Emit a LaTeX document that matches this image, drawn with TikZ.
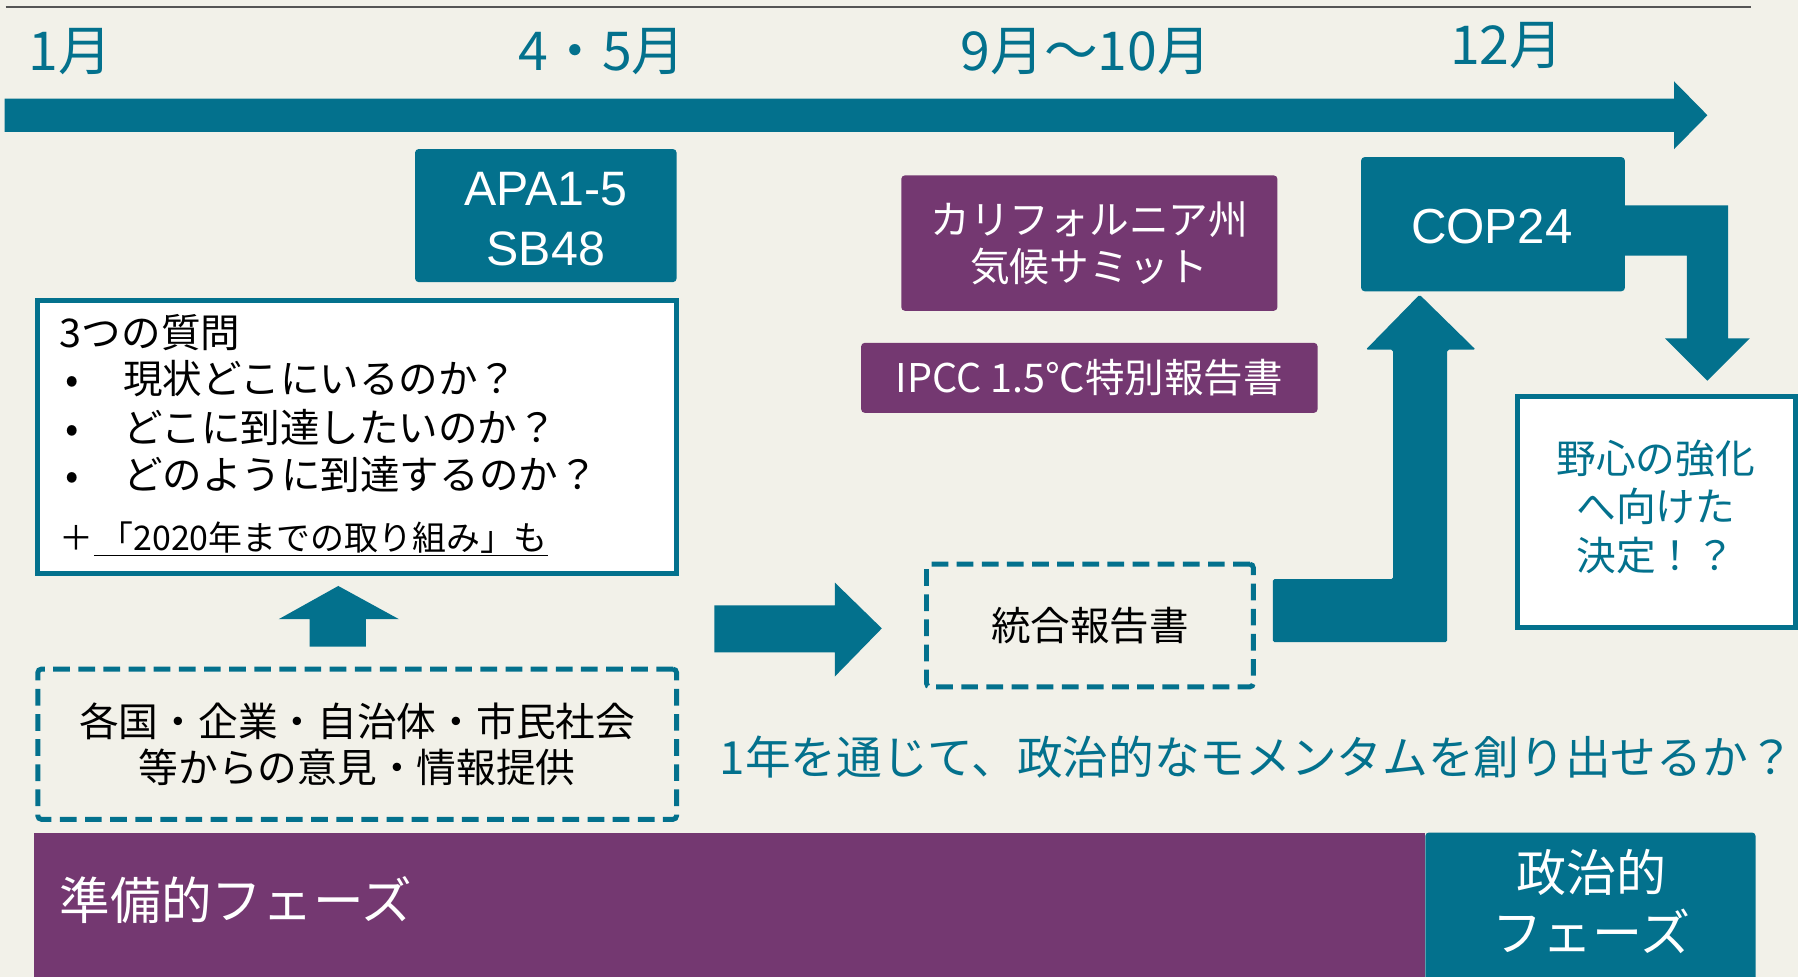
\documentclass[tikz,border=0pt]{standalone}
\usepackage{fontspec}
\setmainfont{Noto Sans CJK JP}
\newfontfamily\latfont{Liberation Sans}
\definecolor{teal1}{RGB}{3,113,141}
\definecolor{purp}{RGB}{116,56,113}
\definecolor{bgc}{RGB}{242,241,233}
\definecolor{lineg}{RGB}{85,85,85}
\newcommand\pxu{0.022934cm}
\tikzset{
  dims/.style 2 args={minimum width=#1*\pxu, minimum height=#2*\pxu},
  month/.style={text=teal1, font=\fontsize{30.5}{33}\selectfont, inner sep=0pt},
  tealbox/.style={fill=teal1, rounded corners=2pt, text=white, inner sep=0pt, align=center},
  purpbox/.style={fill=purp, rounded corners=2pt, text=white, inner sep=0pt, align=center},
  bodytext/.style={font=\fontsize{22.5}{26.5}\selectfont, inner sep=0pt},
  dashbox/.style={draw=teal1, line width=2.8pt, dash pattern=on 9.5pt off 4.8pt, rounded corners=2pt, inner sep=0pt, align=center},
  whitebox/.style={draw=teal1, fill=white, line width=2.8pt, inner sep=0pt, align=center},
  blockarrow/.style={fill=teal1},
}
\begin{document}
\begin{tikzpicture}[x=\pxu, y=-\pxu]
\useasboundingbox (0,0) rectangle (1568,852);
\fill[bgc] (0,0) rectangle (1568,852);
% top rule
\draw[lineg, line width=0.9pt] (5,6) -- (1527,6);
% timeline arrow
\fill[blockarrow] (4,86) -- (1460,86) -- (1460,71) -- (1489,100.5) -- (1460,130) -- (1460,115) -- (4,115) -- cycle;
% months
\node[month] (m1) at (61,45) {1月};
\node[month] (m2) at (525,45) {4・5月};
\node[month] (m3) at (947,45) {9月～10月};
\node[month] (m4) at (1314,40) {12月};

% APA box
\node[tealbox, dims={228}{116}] (apa) at (476,188) {};
\node[text=white, align=center, inner sep=0pt, font=\latfont\fontsize{27.5}{34.5}\selectfont] (apat) at (476,191) {APA1-5\\SB48};

% questions box
\node[whitebox, dims={557}{238}] (qbox) at (311.5,381) {};
\node[bodytext, anchor=west] (q0) at (52,290) {3つの質問};
\node[bodytext, anchor=west] (q1) at (52,330) {\makebox[36pt][l]{\hspace{3pt}•}現状どこにいるのか？};
\node[bodytext, anchor=west] (q2) at (52,373) {\makebox[36pt][l]{\hspace{3pt}•}どこに到達したいのか？};
\node[bodytext, anchor=west] (q3) at (52,414) {\makebox[36pt][l]{\hspace{3pt}•}どのように到達するのか？};
\node[bodytext, font=\fontsize{19.3}{24}\selectfont, anchor=west] (q4) at (52,470) {＋\underline{\,「2020年までの取り組み」も}};

% small up arrow
\fill[blockarrow] (270,564) -- (270,540) -- (243,540) -- (295,511) -- (348,540) -- (319,540) -- (319,564) -- cycle;

% input box
\node[dashbox, dims={557}{131}, font=\fontsize{22.6}{26}\selectfont] (inp) at (311.5,649) {各国・企業・自治体・市民社会\\等からの意見・情報提供};

% right arrow
\fill[blockarrow] (623,528) -- (728,528) -- (728,508) -- (769,548) -- (728,590) -- (728,569) -- (623,569) -- cycle;

% synthesis report
\node[dashbox, dims={285}{107}, font=\fontsize{22.5}{26}\selectfont] (syn) at (950.5,545.5) {統合報告書};

% purple boxes
\node[purpbox, dims={328}{118}, font=\fontsize{22.6}{26.7}\selectfont] (calif) at (950,212) {カリフォルニア州\\気候サミット};
\node[purpbox, dims={398}{61}, font=\fontsize{22.5}{26}\selectfont] (ipcc) at (950,329.5) {IPCC 1.5℃特別報告書};

% L arrow up to COP24
\fill[blockarrow, rounded corners=1pt] (1110,505) -- (1215,505) -- (1215,305) -- (1191,305) -- (1238,257) -- (1287,305) -- (1262,305) -- (1262,560) -- (1110,560) -- cycle;

% COP24 arrow to the right and down
\fill[blockarrow] (1410,179) -- (1507,179) -- (1507,295) -- (1526,295) -- (1489,332) -- (1452,295) -- (1471,295) -- (1471,223) -- (1410,223) -- cycle;
\node[tealbox, dims={230}{117}] (cop) at (1302,195.5) {};
\node[text=white, inner sep=0pt, font=\latfont\fontsize{28}{32}\selectfont] (copt) at (1301,198) {COP24};

% ambition box
\node[whitebox, dims={243}{201}] (amb) at (1444.5,446.5) {};
\node[text=teal1, align=center, inner sep=0pt, font=\fontsize{22.6}{27.7}\selectfont] (ambt) at (1444,442) {野心の強化\\へ向けた\\決定！？};

% question text
\node[text=teal1, font=\fontsize{26}{30}\selectfont, inner sep=0pt] (mom) at (1096,660) {1年を通じて、政治的なモメンタムを創り出せるか？};

% phase bars
\fill[purp] (30,726) rectangle (1243,852);
\fill[teal1, rounded corners=2pt] (1243,726) -- (1531,726) -- (1531,860) -- (1243,860) -- cycle;
\node[text=white, font=\fontsize{28.8}{34}\selectfont, inner sep=0pt, anchor=west] (ph1) at (52,785) {準備的フェーズ};
\node[text=white, font=\fontsize{28.5}{34}\selectfont, inner sep=0pt, align=center] (ph2) at (1388,786) {政治的\\フェーズ};
\end{tikzpicture}
\end{document}
